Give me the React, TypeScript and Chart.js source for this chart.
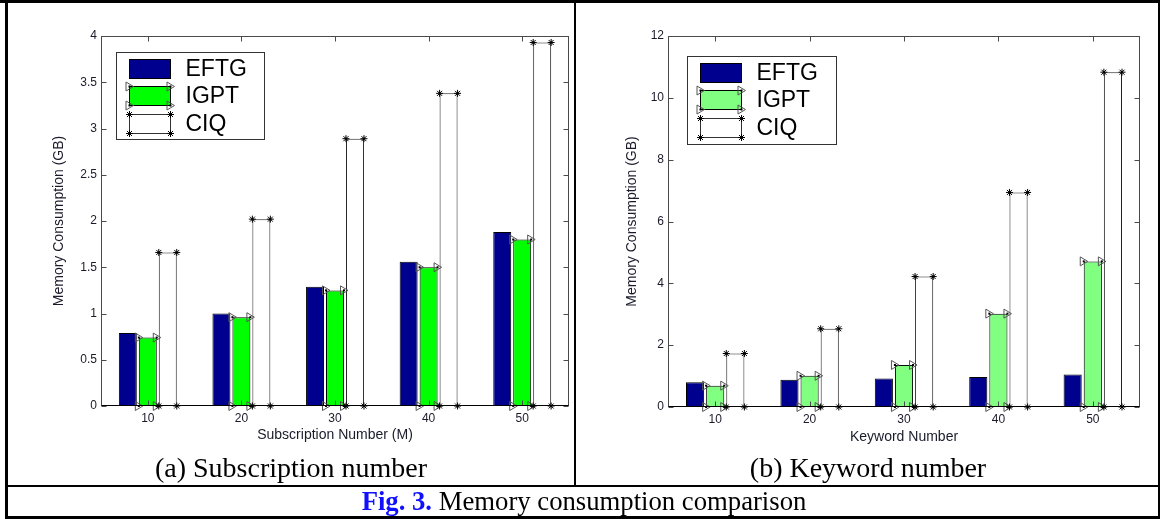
import React, { useEffect, useRef } from 'react';
import { Chart, registerables } from 'chart.js';

Chart.register(...registerables);

// ---------- data ----------
const seriesNames = ['EFTG', 'IGPT', 'CIQ'];

const subCategories = ['10', '20', '30', '40', '50'];
const subEFTG = [0.79, 1.0, 1.29, 1.56, 1.88];
const subIGPT = [0.74, 0.96, 1.25, 1.5, 1.8];
const subCIQ = [1.66, 2.02, 2.89, 3.38, 3.93];
const subYTicks = [0, 0.5, 1, 1.5, 2, 2.5, 3, 3.5, 4];
const subYTickLabels = ['0', '0.5', '1', '1.5', '2', '2.5', '3', '3.5', '4'];

const kwCategories = ['10', '20', '30', '40', '50'];
const kwEFTG = [0.8, 0.88, 0.92, 0.97, 1.05];
const kwIGPT = [0.69, 1.01, 1.36, 3.02, 4.71];
const kwCIQ = [1.73, 2.53, 4.22, 6.94, 10.83];
const kwYTicks = [0, 2, 4, 6, 8, 10, 12];
const kwYTickLabels = ['0', '2', '4', '6', '8', '10', '12'];

const SANS = "'Liberation Sans', Arial, Helvetica, sans-serif";
const SERIF = "'Liberation Serif', 'Times New Roman', serif";

// ---------- marker helpers ----------
function drawTriangle(ctx: CanvasRenderingContext2D, x: number, y: number) {
  ctx.save();
  ctx.strokeStyle = '#555';
  ctx.lineWidth = 1;
  ctx.beginPath();
  ctx.moveTo(x - 3.5, y - 4.5);
  ctx.lineTo(x + 4, y);
  ctx.lineTo(x - 3.5, y + 4.5);
  ctx.closePath();
  ctx.stroke();
  ctx.fillStyle = '#000';
  ctx.fillRect(x - 1, y - 1, 2, 2);
  ctx.restore();
}

function drawStar(ctx: CanvasRenderingContext2D, x: number, y: number) {
  ctx.save();
  ctx.strokeStyle = '#000';
  ctx.lineWidth = 1;
  const r = 3.5;
  const d = 2.5;
  ctx.beginPath();
  ctx.moveTo(x - r, y);
  ctx.lineTo(x + r, y);
  ctx.moveTo(x, y - r);
  ctx.lineTo(x, y + r);
  ctx.moveTo(x - d, y - d);
  ctx.lineTo(x + d, y + d);
  ctx.moveTo(x - d, y + d);
  ctx.lineTo(x + d, y - d);
  ctx.stroke();
  ctx.fillStyle = '#000';
  ctx.fillRect(x - 1, y - 1, 2, 2);
  ctx.restore();
}

function drawMarker(ctx: CanvasRenderingContext2D, kind: string | null, x: number, y: number) {
  if (kind === 'triangle') drawTriangle(ctx, x, y);
  else if (kind === 'star') drawStar(ctx, x, y);
}

// ---------- plugin for the Matlab look ----------
const matlabPlugin = {
  id: 'matlabLook',
  afterDatasetsDraw(chart: any, _args: any, opts: any) {
    const ctx: CanvasRenderingContext2D = chart.ctx;
    const { left, right, top, bottom } = chart.chartArea;
    const markers: (string | null)[] = opts.markers || [];

    chart.data.datasets.forEach((_ds: any, i: number) => {
      const kind = markers[i];
      if (!kind) return;
      const meta = chart.getDatasetMeta(i);
      meta.data.forEach((bar: any) => {
        const p = bar.getProps(['x', 'y', 'base', 'width'], true);
        const l = p.x - p.width / 2;
        const r = p.x + p.width / 2;
        [[l, p.y], [r, p.y], [l, p.base], [r, p.base]].forEach(([px, py]) =>
          drawMarker(ctx, kind, px, py)
        );
      });
    });

    ctx.save();
    ctx.strokeStyle = '#4a4a4a';
    ctx.lineWidth = 1;
    const L = Math.round(left) + 0.5;
    const R = Math.round(right) - 0.5;
    const T = Math.round(top) + 0.5;
    const B = Math.round(bottom) - 0.5;
    ctx.strokeRect(L, T, R - L, B - T);

    const tl = 5;
    const ys = chart.scales.y;
    ys.ticks.forEach((t: any) => {
      const py = Math.round(ys.getPixelForValue(t.value)) + 0.5;
      ctx.beginPath();
      ctx.moveTo(L, py);
      ctx.lineTo(L + tl, py);
      ctx.moveTo(R, py);
      ctx.lineTo(R - tl, py);
      ctx.stroke();
    });
    const xs = chart.scales.x;
    xs.ticks.forEach((_t: any, idx: number) => {
      const px = Math.round(xs.getPixelForTick(idx)) + 0.5;
      ctx.beginPath();
      ctx.moveTo(px, B);
      ctx.lineTo(px, B - tl);
      ctx.moveTo(px, T);
      ctx.lineTo(px, T + tl);
      ctx.stroke();
    });
    ctx.strokeStyle = '#000';
    ctx.beginPath();
    ctx.moveTo(L, B);
    ctx.lineTo(R, B);
    ctx.stroke();
    ctx.restore();

    const lg = opts.legend;
    if (lg) {
      const bx = Math.round(left + lg.dx) + 0.5;
      const by = Math.round(top + lg.dy) + 0.5;
      ctx.save();
      ctx.fillStyle = '#fff';
      ctx.fillRect(bx, by, lg.w, lg.h);
      ctx.strokeStyle = '#333';
      ctx.lineWidth = 1;
      ctx.strokeRect(bx, by, lg.w, lg.h);
      const rows = [7, 34, 62];
      chart.data.datasets.forEach((ds: any, i: number) => {
        const sx = bx + 13;
        const sy = by + rows[i];
        const sw = 41;
        const sh = 19;
        ctx.fillStyle = ds.backgroundColor;
        ctx.fillRect(sx, sy, sw, sh);
        ctx.strokeStyle = i === 2 ? '#333' : '#000';
        ctx.strokeRect(sx, sy, sw, sh);
        const kind = markers[i];
        [[sx, sy], [sx + sw, sy], [sx, sy + sh], [sx + sw, sy + sh]].forEach(([px, py]) =>
          drawMarker(ctx, kind, px, py)
        );
        ctx.fillStyle = '#000';
        ctx.font = `23px ${SANS}`;
        ctx.textBaseline = 'middle';
        ctx.textAlign = 'left';
        ctx.fillText(ds.label, bx + 69, sy + sh / 2 + 1);
      });
      ctx.restore();
    }
  },
};

type PanelProps = {
  categories: string[];
  eftg: number[];
  igpt: number[];
  ciq: number[];
  igptColor: string;
  yTicks: number[];
  yTickLabels: string[];
  xTitle: string;
  yAxisWidth: number;
  xAxisHeight: number;
  padRight: number;
  padTop: number;
  yTitlePad: number;
  xTitlePad: number;
  legendDx: number;
  legendDy: number;
  legendW: number;
  legendH: number;
  width: number;
  height: number;
  left: number;
  top: number;
};

function Panel(props: PanelProps) {
  const ref = useRef<HTMLCanvasElement | null>(null);
  useEffect(() => {
    if (!ref.current) return;
    const yMin = props.yTicks[0];
    const yMax = props.yTicks[props.yTicks.length - 1];
    const chart = new Chart(ref.current, {
      type: 'bar',
      data: {
        labels: props.categories,
        datasets: [
          {
            label: seriesNames[0],
            data: props.eftg,
            backgroundColor: '#00008f',
            borderColor: '#000',
            borderWidth: 1,
          },
          {
            label: seriesNames[1],
            data: props.igpt,
            backgroundColor: props.igptColor,
            borderColor: '#000',
            borderWidth: 1,
          },
          {
            label: seriesNames[2],
            data: props.ciq,
            backgroundColor: '#ffffff',
            borderColor: '#222',
            borderWidth: 1,
          },
        ],
      },
      options: {
        responsive: false,
        animation: false,
        devicePixelRatio: 1,
        datasets: {
          bar: {
            categoryPercentage: 0.64,
            barPercentage: 0.9,
            borderSkipped: 'bottom',
          },
        } as any,
        layout: {
          padding: { left: 0, right: props.padRight, top: props.padTop, bottom: 0 },
        },
        plugins: {
          legend: { display: false },
          tooltip: { enabled: false },
          matlabLook: {
            markers: [null, 'triangle', 'star'],
            legend: { dx: props.legendDx, dy: props.legendDy, w: props.legendW, h: props.legendH },
          },
        } as any,
        scales: {
          x: {
            type: 'category',
            grid: { display: false, drawTicks: false },
            border: { display: false },
            ticks: {
              padding: 5,
              maxRotation: 0,
              color: '#1a1a2a',
              font: { family: SANS, size: 12 },
            },
            title: {
              display: true,
              text: props.xTitle,
              color: '#1a1a2a',
              font: { family: SANS, size: 14 },
              padding: { top: 0, bottom: props.xTitlePad },
            },
            afterFit: (scale: any) => {
              scale.height = props.xAxisHeight;
            },
          },
          y: {
            type: 'linear',
            min: yMin,
            max: yMax,
            grid: { display: false, drawTicks: false },
            border: { display: false },
            afterBuildTicks: (scale: any) => {
              scale.ticks = props.yTicks.map((v) => ({ value: v }));
            },
            ticks: {
              padding: 4,
              color: '#1a1a2a',
              font: { family: SANS, size: 12 },
              callback: (value: any) => {
                const idx = props.yTicks.indexOf(Number(value));
                return idx >= 0 ? props.yTickLabels[idx] : String(value);
              },
            },
            title: {
              display: true,
              text: 'Memory Consumption (GB)',
              color: '#1a1a2a',
              font: { family: SANS, size: 14 },
              padding: { top: props.yTitlePad, bottom: 0 },
            },
            afterFit: (scale: any) => {
              scale.width = props.yAxisWidth;
            },
          },
        },
      },
      plugins: [matlabPlugin as any],
    });
    return () => chart.destroy();
  }, []);
  return (
    <canvas
      ref={ref}
      width={props.width}
      height={props.height}
      style={{
        position: 'absolute',
        left: props.left,
        top: props.top,
        width: props.width,
        height: props.height,
      }}
    />
  );
}

const line = (s: React.CSSProperties): React.CSSProperties => ({
  position: 'absolute',
  background: '#000',
  ...s,
});

export default function App() {
  return (
    <div
      style={{
        position: 'absolute',
        left: 0,
        top: 0,
        width: 1160,
        height: 519,
        background: '#fff',
        overflow: 'hidden',
      }}
    >
      <Panel
        categories={subCategories}
        eftg={subEFTG}
        igpt={subIGPT}
        ciq={subCIQ}
        igptColor="#00ff00"
        yTicks={subYTicks}
        yTickLabels={subYTickLabels}
        xTitle="Subscription Number (M)"
        yAxisWidth={93}
        xAxisHeight={78}
        padRight={5}
        padTop={33}
        yTitlePad={43.2}
        xTitlePad={40.2}
        legendDx={15}
        legendDy={16}
        legendW={148}
        legendH={87}
        width={566}
        height={481}
        left={8}
        top={3}
      />
      <Panel
        categories={kwCategories}
        eftg={kwEFTG}
        igpt={kwIGPT}
        ciq={kwCIQ}
        igptColor="#80ff80"
        yTicks={kwYTicks}
        yTickLabels={kwYTickLabels}
        xTitle="Keyword Number"
        yAxisWidth={91}
        xAxisHeight={77}
        padRight={19}
        padTop={33}
        yTitlePad={46.6}
        xTitlePad={38.6}
        legendDx={19}
        legendDy={20}
        legendW={149}
        legendH={88}
        width={582}
        height={481}
        left={577}
        top={3}
      />

      {/* table borders */}
      <div style={line({ left: 0, top: 0, width: 1160, height: 3 })} />
      <div style={line({ left: 5, top: 0, width: 3, height: 519 })} />
      <div style={line({ left: 1158, top: 0, width: 2, height: 519 })} />
      <div style={line({ left: 574, top: 0, width: 2, height: 486 })} />
      <div style={line({ left: 5, top: 485, width: 1155, height: 2 })} />
      <div style={line({ left: 5, top: 516, width: 1155, height: 3 })} />

      {/* sub captions */}
      <div
        style={{
          position: 'absolute',
          left: 8,
          top: 452,
          width: 566,
          height: 32,
          lineHeight: '32px',
          textAlign: 'center',
          fontFamily: SERIF,
          fontSize: 28,
          color: '#000',
          whiteSpace: 'nowrap',
        }}
      >
        (a) Subscription number
      </div>
      <div
        style={{
          position: 'absolute',
          left: 577,
          top: 452,
          width: 582,
          height: 32,
          lineHeight: '32px',
          textAlign: 'center',
          fontFamily: SERIF,
          fontSize: 28,
          color: '#000',
          whiteSpace: 'nowrap',
        }}
      >
        (b) Keyword number
      </div>
      <div
        style={{
          position: 'absolute',
          left: 8,
          top: 487,
          width: 1152,
          height: 28,
          lineHeight: '28px',
          textAlign: 'center',
          fontFamily: SERIF,
          fontSize: 26.7,
          color: '#000',
          whiteSpace: 'nowrap',
        }}
      >
        <span style={{ color: '#1010ff', fontWeight: 'bold' }}>Fig. 3.</span> Memory consumption
        comparison
      </div>
    </div>
  );
}
